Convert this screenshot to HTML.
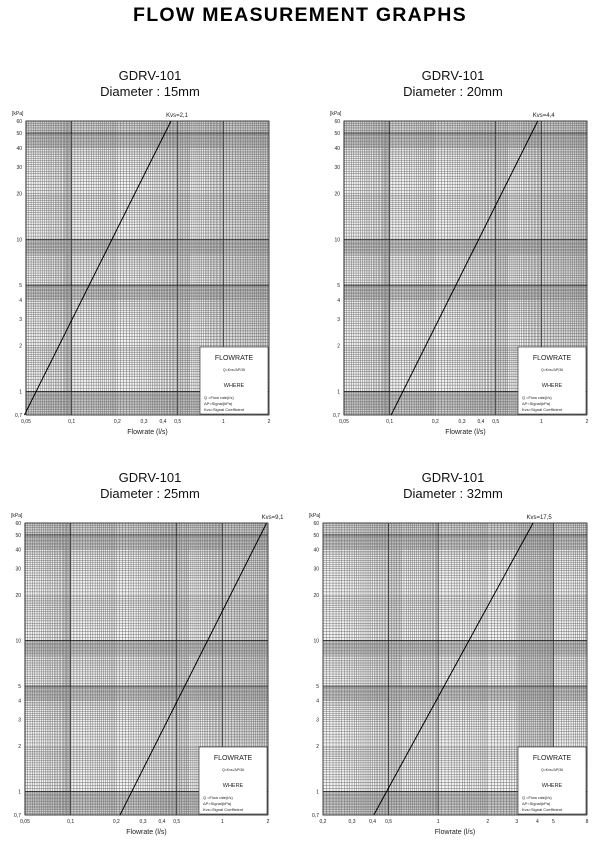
<!DOCTYPE html>
<html><head><meta charset="utf-8">
<style>
body{margin:0;background:#fff;width:600px;height:843px;overflow:hidden;font-family:"Liberation Sans",sans-serif}
#title{position:absolute;left:0;top:5px;width:600px;text-align:center;font-weight:900;font-size:19px;letter-spacing:1.2px;color:#000;transform:scaleX(1.03)}
svg{position:absolute;left:0;top:0}
</style></head><body>
<div id="title">FLOW MEASUREMENT GRAPHS</div>
<svg id="s" width="600" height="843"></svg>
<script>
// Chart data
const chartNames = ["15mm","20mm","25mm","32mm"];
const kvsValues = [2.1, 4.4, 9.1, 17.5];
const kvsLabels = ["2,1","4,4","9,1","17,5"];
const dpRange = [0.7, 60];
const xTicksA = [0.05,0.1,0.2,0.3,0.4,0.5,1,2];
const xTickLabelsA = ["0,05","0,1","0,2","0,3","0,4","0,5","1","2"];
const xTicksB = [0.2,0.3,0.4,0.5,1,2,3,4,5,8];
const xTickLabelsB = ["0,2","0,3","0,4","0,5","1","2","3","4","5","8"];
const yTicks = [0.7,1,2,3,4,5,10,20,30,40,50,60];
const yTickLabels = ["0,7","1","2","3","4","5","10","20","30","40","50","60"];

const NS="http://www.w3.org/2000/svg";
const svg=document.getElementById('s');
function mk(tag,attrs,parent){const e=document.createElementNS(NS,tag);for(const k in attrs)e.setAttribute(k,attrs[k]);(parent||svg).appendChild(e);return e;}

const layouts=[
 {x0:26,x1:269,y0:121,y1:415,xmin:0.05,xmax:2,cx:150,ty:75},
 {x0:344,x1:587,y0:121,y1:415,xmin:0.05,xmax:2,cx:453,ty:75},
 {x0:25,x1:268,y0:523,y1:815,xmin:0.05,xmax:2,cx:150,ty:477},
 {x0:323,x1:587,y0:523,y1:815,xmin:0.2,xmax:8,cx:453,ty:477}
];

function subLines(min,max){
  const out=[];
  let d=Math.pow(10,Math.floor(Math.log10(min)));
  while(d<max*1.0001){
    for(let m=1;m<10-1e-9;){
      const v=m*d;
      if(v>=min*0.9999&&v<=max*1.0001) out.push({v:v,major:Math.abs(m-Math.round(m))<1e-6&&(Math.round(m)===1||Math.round(m)===5)});
      m+= m<2?0.05:(m<5?0.1:0.2); m=Math.round(m*100)/100;
    }
    d*=10;
  }
  return out;
}

layouts.forEach((L,i)=>{
  const g=mk('g',{});
  const xs=v=>L.x0+(Math.log10(v)-Math.log10(L.xmin))/(Math.log10(L.xmax)-Math.log10(L.xmin))*(L.x1-L.x0);
  const ys=v=>L.y1-(Math.log10(v)-Math.log10(dpRange[0]))/(Math.log10(dpRange[1])-Math.log10(dpRange[0]))*(L.y1-L.y0);
  let t=mk('text',{x:L.cx,y:L.ty+5,'text-anchor':'middle','font-size':13,fill:'#111'},g);t.textContent='GDRV-101';
  
  t=mk('text',{x:L.cx,y:L.ty+21,'text-anchor':'middle','font-size':13,fill:'#111'},g);t.textContent='Diameter : '+chartNames[i];
  
  mk('rect',{x:L.x0,y:L.y0,width:L.x1-L.x0,height:L.y1-L.y0,fill:'#f4f4f4'},g);
  const bands=g.appendChild(document.createElementNS(NS,'g'));
  
  [[40,60],[8,10],[4,5],[0.7,1]].forEach(b=>mk('rect',{x:L.x0,y:ys(b[1]),width:L.x1-L.x0,height:ys(b[0])-ys(b[1]),fill:'#bdbdbd',opacity:0.6},bands));
  const xb = L.xmin<0.1?[[0.09,0.1],[0.5,0.6],[1,2]]:[[0.5,0.6],[1,1],[3,5]];
  xb.forEach(b=>{if(b[1]>b[0])mk('rect',{x:xs(b[0]),y:L.y0,width:xs(b[1])-xs(b[0]),height:L.y1-L.y0,fill:'#bdbdbd',opacity:0.5},bands);});
  const grid=mk('g',{},g);
  subLines(L.xmin,L.xmax).forEach(o=>mk('line',{x1:xs(o.v),x2:xs(o.v),y1:L.y0,y2:L.y1,stroke:o.major?'#222':'#666','stroke-width':o.major?0.9:0.45},grid));
  subLines(dpRange[0],dpRange[1]).forEach(o=>mk('line',{x1:L.x0,x2:L.x1,y1:ys(o.v),y2:ys(o.v),stroke:o.major?'#222':'#666','stroke-width':o.major?0.9:0.45},grid));
  mk('rect',{x:L.x0,y:L.y0,width:L.x1-L.x0,height:L.y1-L.y0,fill:'none',stroke:'#222','stroke-width':0.8},g);
  const xt=L.xmin<0.1?xTicksA:xTicksB, xl=L.xmin<0.1?xTickLabelsA:xTickLabelsB;
  xt.forEach((v,k)=>{const e=mk('text',{x:xs(v),y:L.y1+8,'text-anchor':'middle','font-size':5,fill:'#222'},g);e.textContent=xl[k];
    });
  yTicks.forEach((v,k)=>{const e=mk('text',{x:L.x0-4,y:ys(v)+2,'text-anchor':'end','font-size':5,fill:'#222'},g);e.textContent=yTickLabels[k];
    });
  t=mk('text',{x:L.x0-14,y:L.y0-6,'font-size':5,fill:'#222'},g);t.textContent='[kPa]';
  
  t=mk('text',{x:(L.x0+L.x1)/2,y:L.y1+19,'text-anchor':'middle','font-size':7,fill:'#222'},g);t.textContent='Flowrate (l/s)';
  
  const q=dpRange.map(dp=>kvsValues[i]*Math.sqrt(dp/100)/3.6);
  const ln=mk('line',{x1:xs(q[0]),y1:ys(dpRange[0]),x2:xs(q[1]),y2:ys(dpRange[1]),stroke:'#000','stroke-width':1},g);
  
  t=mk('text',{x:xs(q[1])+6,y:L.y0-4,'text-anchor':'middle','font-size':6,fill:'#222'},g);t.textContent='Kvs='+kvsLabels[i];
  
  const bx=L.x1-69,by=L.y1-68;
  const lg=mk('g',{},g);
  mk('rect',{x:bx,y:by,width:68,height:67,fill:'#fff',stroke:'#222','stroke-width':0.6},lg);
  const lines=[["FLOWRATE",bx+34,by+13,7,'middle'],["Q=Kvs√ΔP/36",bx+34,by+24,3.5,'middle'],["WHERE",bx+34,by+40,5.5,'middle'],
    ["Q  =Flow rate(l/s)",bx+4,by+52,4,'start'],["ΔP=Signal(kPa)",bx+4,by+58,4,'start'],["Kvs=Signal Coefficient",bx+4,by+64,4,'start']];
  lines.forEach(a=>{const e=mk('text',{x:a[1],y:a[2],'font-size':a[3],'text-anchor':a[4],fill:'#222'},lg);e.textContent=a[0];});
});
</script>
</body></html>
